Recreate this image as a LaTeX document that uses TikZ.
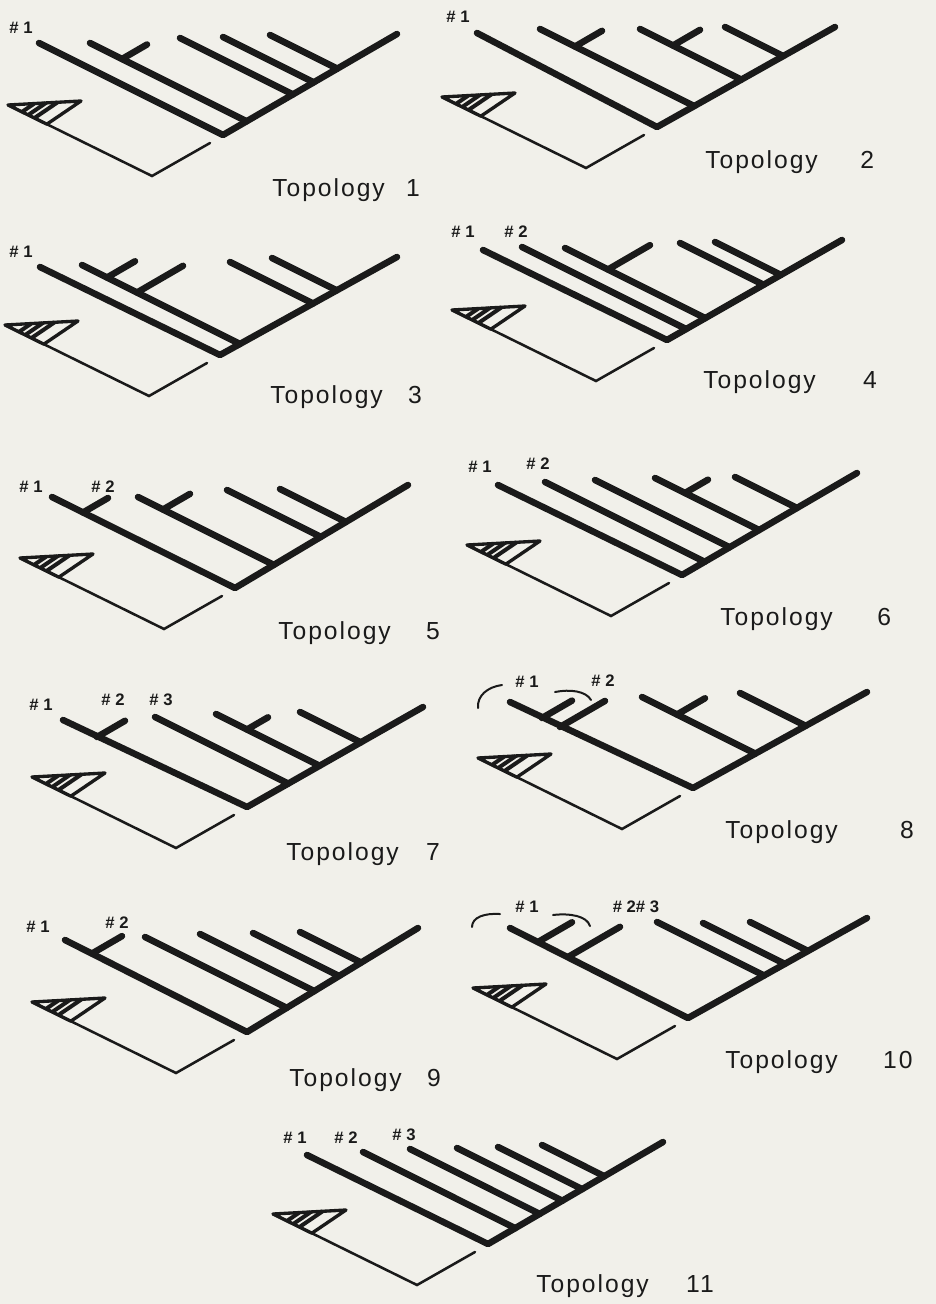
\documentclass[tikz,border=0pt]{standalone}
\usepackage{fontspec}
\setmainfont{Liberation Sans}
\newfontfamily\labfont[LetterSpace=8]{Liberation Sans}
\usetikzlibrary{calc}
\definecolor{paper}{RGB}{241,240,234}
\definecolor{ink}{RGB}{26,26,26}
\newlength\pxu
\setlength\pxu{0.75pt}
% one tree: id, first branch start, root, spine top
\newcommand{\claderoot}[4]{%
  \coordinate (#1Ps) at (#2);
  \coordinate (#1R) at (#3);
  \coordinate (#1T) at (#4);
  \coordinate (#1A) at ($(#1R)+(-215,-30)$);
  \coordinate (#1V) at ($(#1R)+(-71,41)$);
  \coordinate (#1W) at ($(#1R)+(-13,8)$);
  \coordinate (#1B) at ($(#1A)+(73,-4)$);
  \coordinate (#1C) at ($(#1A)!0.27!(#1V)$);
  \draw[thn] (#1A) -- (#1V) -- (#1W);
  \draw[tri] (#1A) -- (#1B) -- (#1C) -- cycle;
  \foreach \hs in {0.36,0.52,0.68}{\draw[hat] ($(#1A)!\hs!(#1B)$) -- ($(#1A)!\hs!(#1C)$);}
  \draw[thk] (#1Ps) -- (#1R) -- (#1T);
}
% branch: id, name, start
\newcommand{\brn}[3]{%
  \coordinate (#1#2s) at (#3);
  \coordinate (#1#2d) at ($(#1#2s)+(300,150)$);
  \coordinate (#1#2e) at (intersection of #1#2s--#1#2d and #1R--#1T);
  \draw[thk] (#1#2s) -- (#1#2e);
}
% side branch: id, branch name, sub name, x offset of base, length
\newcommand{\sbr}[5]{%
  \coordinate (#1#2#3b) at ($(#1#2s)+(#4,{0.5*#4})$);
  \coordinate (#1#2#3t) at ($(#1#2#3b)+(#5,{-0.58*#5})$);
  \draw[thk] (#1#2#3b) -- (#1#2#3t);
}
\begin{document}
\begin{tikzpicture}[x=0.75pt,y=-0.75pt,
  thk/.style={ink,line width=4.9pt,line cap=round,line join=round},
  thn/.style={ink,line width=1.9pt,line cap=round,line join=miter},
  tri/.style={ink,line width=2.5pt,line join=round,line cap=round},
  hat/.style={ink,line width=3pt},
  arcl/.style={ink,line width=1.5pt,line cap=round},
  hashlab/.style={ink,font=\bfseries\fontsize{12.5}{12.5}\selectfont,inner sep=0pt},
  toplab/.style={ink,font=\labfont\fontsize{18.5}{18.5}\selectfont,inner sep=0pt,anchor=base west}]
\fill[paper] (0,0) rectangle (936,1304);
\useasboundingbox (0,0) rectangle (936,1304);

% ---------- Topology 1
\claderoot{a}{39,43}{223,135}{397,34}
\brn{a}{B}{90,43}
\brn{a}{C}{180,38}
\brn{a}{D}{223,37}
\brn{a}{E}{270,35}
\sbr{a}{B}{x}{32}{25}
\node[hashlab] (a1) at (21,28) {\# 1};
\node[toplab] (aL) at (272,196) {\makebox[134\pxu][l]{Topology}1};

% ---------- Topology 2
\claderoot{b}{477,33}{657,127}{835,27}
\brn{b}{B}{540,29}
\brn{b}{C}{640,29}
\brn{b}{D}{725,27}
\sbr{b}{B}{x}{35}{27}
\sbr{b}{C}{x}{33}{27}
\node[hashlab] (b1) at (458,17) {\# 1};
\node[toplab] (bL) at (705,168) {\makebox[155\pxu][l]{Topology}2};

% ---------- Topology 3
\claderoot{c}{40,267}{220,355}{397,257}
\brn{c}{B}{82,265}
\brn{c}{C}{230,262}
\brn{c}{D}{272,258}
\sbr{c}{B}{x}{25}{28}
\sbr{c}{B}{y}{55}{46}
\node[hashlab] (c1) at (21,252) {\# 1};
\node[toplab] (cL) at (270,403) {\makebox[138\pxu][l]{Topology}3};

% ---------- Topology 4
\claderoot{d}{483,250}{667,340}{842,240}
\brn{d}{B}{522,247}
\brn{d}{C}{565,248}
\brn{d}{D}{680,243}
\brn{d}{E}{715,242}
\sbr{d}{C}{x}{43}{42}
\node[hashlab] (d1) at (463,232) {\# 1};
\node[hashlab] (d2) at (516,232) {\# 2};
\node[toplab] (dL) at (703,388) {\makebox[160\pxu][l]{Topology}4};

% ---------- Topology 5
\claderoot{e}{52,497}{235,588}{408,485}
\brn{e}{B}{138,497}
\brn{e}{C}{227,490}
\brn{e}{D}{280,489}
\sbr{e}{P}{x}{31}{25}
\sbr{e}{B}{x}{25}{27}
\node[hashlab] (e1) at (31,487) {\# 1};
\node[hashlab] (e2) at (103,487) {\# 2};
\node[toplab] (eL) at (278,639) {\makebox[148\pxu][l]{Topology}5};

% ---------- Topology 6
\claderoot{f}{498,485}{682,575}{857,473}
\brn{f}{B}{545,482}
\brn{f}{C}{595,480}
\brn{f}{D}{655,478}
\brn{f}{E}{735,477}
\sbr{f}{D}{x}{30}{23}
\node[hashlab] (f1) at (480,467) {\# 1};
\node[hashlab] (f2) at (538,464) {\# 2};
\node[toplab] (fL) at (720,625) {\makebox[157\pxu][l]{Topology}6};

% ---------- Topology 7
\claderoot{g}{63,720}{247,807}{423,707}
\brn{g}{B}{155,717}
\brn{g}{C}{216,714}
\brn{g}{D}{300,712}
\sbr{g}{P}{x}{34}{28}
\sbr{g}{C}{x}{31}{21}
\node[hashlab] (g1) at (41,705) {\# 1};
\node[hashlab] (g2) at (113,700) {\# 2};
\node[hashlab] (g3) at (161,700) {\# 3};
\node[toplab] (gL) at (286,860) {\makebox[140\pxu][l]{Topology}7};

% ---------- Topology 8
\claderoot{h}{510,702}{693,788}{867,692}
\brn{h}{B}{642,697}
\brn{h}{C}{740,693}
\sbr{h}{P}{x}{32}{30}
\sbr{h}{P}{y}{50}{45}
\sbr{h}{B}{x}{35}{28}
\node[hashlab] (h1) at (527,682) {\# 1};
\node[hashlab] (h2) at (603,681) {\# 2};
\coordinate (hl1) at (478,708); \coordinate (hl2) at (502,685);
\coordinate (hr1) at (555,692); \coordinate (hr2) at (591,700);
\draw[arcl] (hl1) .. controls (477,696) and (487,687) .. (hl2);
\draw[arcl] (hr1) .. controls (570,689) and (586,691) .. (hr2);
\node[toplab] (hL) at (725,838) {\makebox[175\pxu][l]{Topology}8};

% ---------- Topology 9
\claderoot{i}{65,940}{247,1032}{418,928}
\brn{i}{B}{145,937}
\brn{i}{C}{200,934}
\brn{i}{D}{253,933}
\brn{i}{E}{300,932}
\sbr{i}{P}{x}{27}{30}
\node[hashlab] (i1) at (38,927) {\# 1};
\node[hashlab] (i2) at (117,923) {\# 2};
\node[toplab] (iL) at (289,1086) {\makebox[138\pxu][l]{Topology}9};

% ---------- Topology 10
\claderoot{j}{510,928}{688,1018}{867,918}
\brn{j}{B}{657,922}
\brn{j}{C}{703,923}
\brn{j}{D}{750,922}
\sbr{j}{P}{x}{28}{34}
\sbr{j}{P}{y}{58}{52}
\node[hashlab] (j1) at (527,907) {\# 1};
\node[hashlab] (j2) at (636,907) {\# 2\# 3};
\coordinate (jl1) at (472,927); \coordinate (jl2) at (500,914);
\coordinate (jr1) at (553,915); \coordinate (jr2) at (590,926);
\draw[arcl] (jl1) .. controls (472,917) and (485,913) .. (jl2);
\draw[arcl] (jr1) .. controls (570,913) and (587,916) .. (jr2);
\node[toplab] (jL) at (725,1068) {\makebox[158\pxu][l]{Topology}10};

% ---------- Topology 11
\claderoot{k}{307,1155}{488,1244}{663,1142}
\brn{k}{B}{363,1152}
\brn{k}{C}{410,1149}
\brn{k}{D}{457,1148}
\brn{k}{E}{498,1147}
\brn{k}{F}{542,1145}
\node[hashlab] (k1) at (295,1138) {\# 1};
\node[hashlab] (k2) at (346,1138) {\# 2};
\node[hashlab] (k3) at (404,1135) {\# 3};
\node[toplab] (kL) at (536,1292) {\makebox[150\pxu][l]{Topology}11};
\end{tikzpicture}
\end{document}
